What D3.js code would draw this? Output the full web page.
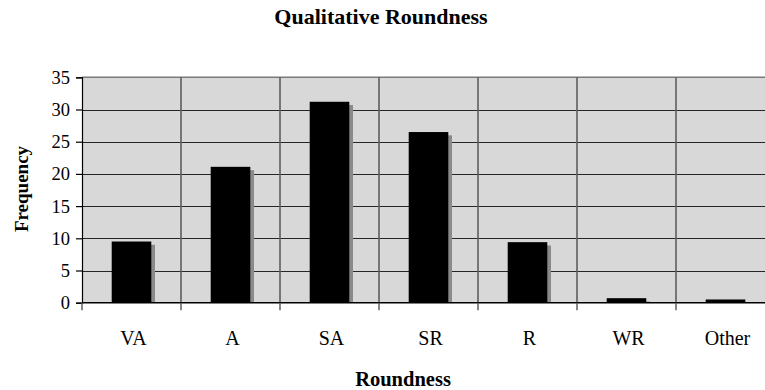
<!DOCTYPE html>
<html>
<head>
<meta charset="utf-8">
<script src="https://cdn.jsdelivr.net/npm/d3@7"></script>
<style>
  html, body { margin: 0; padding: 0; background: #ffffff; }
  svg { display: block; }
  text { font-family: "Liberation Serif", "Times New Roman", serif; fill: #000; }
</style>
</head>
<body>
<script>
// Roundness classes and their frequencies
const categories = ["VA", "A", "SA", "SR", "R", "WR", "Other"];
const frequency = [9.5, 21.1, 31.2, 26.5, 9.4, 0.7, 0.5];
const yTicks = [0, 5, 10, 15, 20, 25, 30, 35];

const W = 765, H = 390;
const plot = { left: 82, right: 775, top: 77.3, bottom: 302.7 };

const svg = d3.select("body").append("svg")
  .attr("width", W).attr("height", H);

const x = d3.scaleBand()
  .domain(categories)
  .range([plot.left, plot.right])
  .paddingInner(0.6)
  .paddingOuter(0.3);

const xCat = d3.scaleBand()
  .domain(categories)
  .range([plot.left, plot.right])
  .padding(0);

const y = d3.scaleLinear()
  .domain([0, 35])
  .range([plot.bottom, plot.top]);

// plot background
svg.append("rect")
  .attr("x", plot.left).attr("y", plot.top)
  .attr("width", plot.right - plot.left)
  .attr("height", plot.bottom - plot.top)
  .attr("fill", "#d8d8d8");

// horizontal gridlines
svg.append("g")
  .selectAll("line")
  .data(yTicks.filter(d => d > 0 && d < 35))
  .join("line")
  .attr("x1", plot.left).attr("x2", plot.right)
  .attr("y1", d => Math.round(y(d)) + 0.5)
  .attr("y2", d => Math.round(y(d)) + 0.5)
  .attr("stroke", "#262626").attr("stroke-width", 1.2);

// top border
svg.append("line")
  .attr("x1", plot.left).attr("x2", plot.right)
  .attr("y1", y(35)).attr("y2", y(35))
  .attr("stroke", "#7a7a7a").attr("stroke-width", 1.6);

// vertical category separators
svg.append("g")
  .selectAll("line")
  .data(categories.slice(1))
  .join("line")
  .attr("x1", d => xCat(d)).attr("x2", d => xCat(d))
  .attr("y1", plot.top).attr("y2", plot.bottom)
  .attr("stroke", "#5e5e5e").attr("stroke-width", 1.6);

// bar shadows
svg.append("g")
  .selectAll("rect")
  .data(categories)
  .join("rect")
  .attr("x", d => x(d) + 3.7)
  .attr("y", (d, i) => y(frequency[i]) + 3.3)
  .attr("width", x.bandwidth())
  .attr("height", (d, i) => Math.max(0, plot.bottom - y(frequency[i]) - 3.3))
  .attr("fill", "#8a8a8a");

// bars
svg.append("g")
  .selectAll("rect")
  .data(categories)
  .join("rect")
  .attr("x", d => x(d))
  .attr("y", (d, i) => y(frequency[i]))
  .attr("width", x.bandwidth())
  .attr("height", (d, i) => plot.bottom - y(frequency[i]))
  .attr("fill", "#000");

// y axis
const yAxis = svg.append("g")
  .attr("transform", `translate(${plot.left},0)`)
  .call(d3.axisLeft(y).tickValues(yTicks).tickSize(6).tickPadding(6).tickFormat(d3.format("d")));
yAxis.select(".domain").attr("stroke", "#000").attr("stroke-width", 1.2);
yAxis.selectAll(".tick line").attr("stroke", "#000").attr("stroke-width", 1.2);
yAxis.selectAll(".tick text")
  .style("font-family", '"Liberation Serif", "Times New Roman", serif')
  .style("font-size", "18.5px").attr("fill", "#000");

// x axis: ticks at category boundaries
const xAxisG = svg.append("g")
  .attr("transform", `translate(0,${plot.bottom})`);
xAxisG.append("line")
  .attr("x1", plot.left).attr("x2", plot.right)
  .attr("y1", 0).attr("y2", 0)
  .attr("stroke", "#000").attr("stroke-width", 1.4);
xAxisG.selectAll("line.tk")
  .data(categories)
  .join("line").attr("class", "tk")
  .attr("x1", d => xCat(d)).attr("x2", d => xCat(d))
  .attr("y1", 0).attr("y2", 7.5)
  .attr("stroke", "#555").attr("stroke-width", 1.4);
xAxisG.selectAll("text")
  .data(categories)
  .join("text")
  .attr("x", d => xCat(d) + xCat.bandwidth() / 2 + 2)
  .attr("y", 42.3)
  .attr("text-anchor", "middle")
  .style("font-size", "20px")
  .text(d => d);

// titles
svg.append("text")
  .attr("x", 381).attr("y", 24.3)
  .attr("text-anchor", "middle")
  .style("font-size", "22px").style("font-weight", "bold")
  .text("Qualitative Roundness");

svg.append("text")
  .attr("x", 403).attr("y", 386)
  .attr("text-anchor", "middle")
  .style("font-size", "20.5px").style("font-weight", "bold")
  .text("Roundness");

svg.append("text")
  .attr("transform", "translate(27.5,189) rotate(-90)")
  .attr("text-anchor", "middle")
  .style("font-size", "19px").style("font-weight", "bold")
  .text("Frequency");
</script>
</body>
</html>
